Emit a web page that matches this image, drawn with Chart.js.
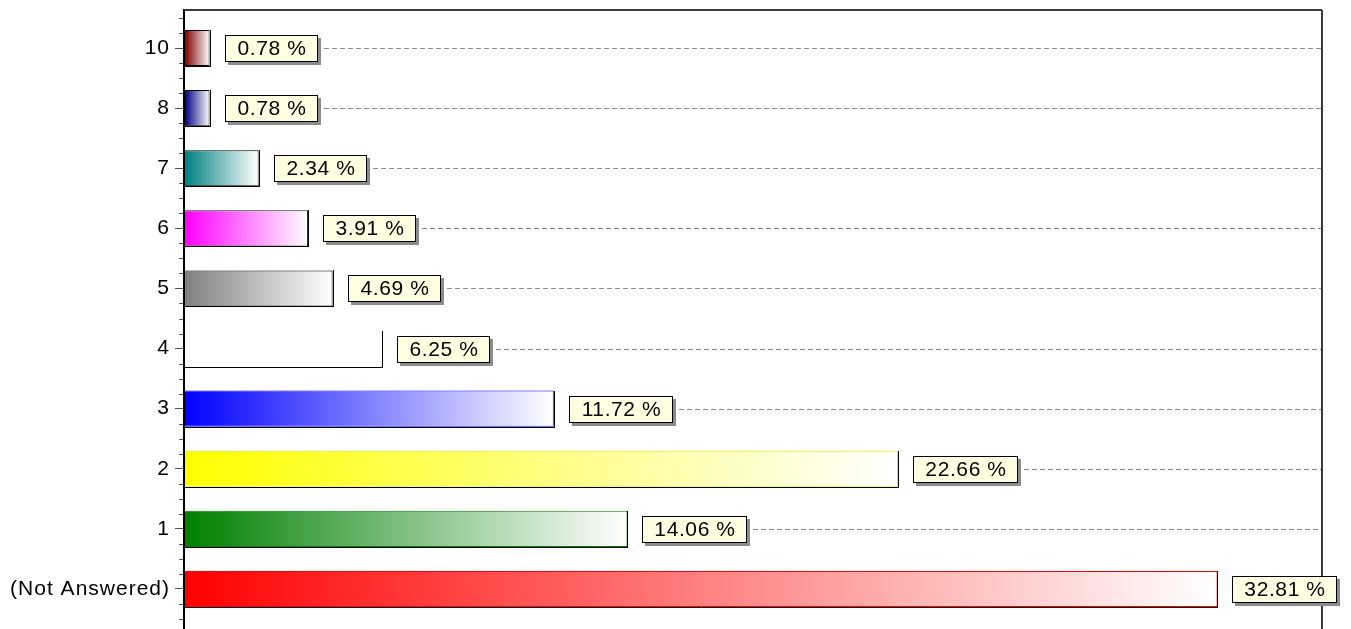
<!DOCTYPE html>
<html>
<head>
<meta charset="utf-8">
<title>Answers</title>
<script src="https://cdn.jsdelivr.net/npm/chart.js@4.4.1/dist/chart.umd.min.js"></script>
<style>
    html, body { margin: 0; padding: 0; background: #fff; overflow: hidden; }
    #wrap { width: 1351px; height: 629px; overflow: hidden; }
</style>
</head>
<body>
<div id="wrap"><canvas id="BarChart" width="1351" height="660"></canvas></div>
<script>
const categories = ['10', '8', '7', '6', '5', '4', '3', '2', '1', '(Not Answered)'];
const percentValues = [0.78, 0.78, 2.34, 3.91, 4.69, 6.25, 11.72, 22.66, 14.06, 32.81];
const barColors = ['#800000', '#000080', '#008080', '#ff00ff', '#808080', '#ffffff', '#0000ff', '#ffff00', '#008000', '#ff0000'];
const edgeColors = ['#000000', '#000000', '#000000', '#202020', '#000000', '#ffffff', '#0000ff', '#e8e800', '#008000', '#ff0000'];

const FONT = '"Liberation Sans", Arial, sans-serif';
const FRAME_TOP = 10;

// gradient from the bar colour to white, across each bar
var barGradient = function (context) {
    const chart = context.chart;
    const i = context.dataIndex;
    if (!chart.chartArea || i === undefined) return barColors[i];
    const xs = chart.scales.x;
    const x0 = xs.getPixelForValue(0);
    const x1 = xs.getPixelForValue(percentValues[i]);
    const g = chart.ctx.createLinearGradient(x0, 0, x1, 0);
    g.addColorStop(0, barColors[i]);
    g.addColorStop(1, '#ffffff');
    return g;
};

var framePlugin = {
    id: 'frame',
    beforeDraw(chart) {
        chart.ctx.letterSpacing = '1px';
    },
    beforeDatasetsDraw(chart) {
        const ctx = chart.ctx;
        const area = chart.chartArea;
        const ys = chart.scales.y;
        const step = ys.getPixelForValue(1) - ys.getPixelForValue(0);
        ctx.save();
        // frame top and right
        ctx.strokeStyle = '#3a3a3a';
        ctx.lineWidth = 2;
        ctx.beginPath();
        ctx.moveTo(area.left - 1, FRAME_TOP);
        ctx.lineTo(area.right + 1, FRAME_TOP);
        ctx.moveTo(area.right + 1, FRAME_TOP);
        ctx.lineTo(area.right + 1, chart.height);
        ctx.stroke();
        // minor ticks on the value axis
        ctx.strokeStyle = '#555';
        ctx.lineWidth = 1;
        ctx.beginPath();
        for (let k = -2; k <= categories.length * 4 + 2; k++) {
            const yy = Math.round(ys.getPixelForValue(0) + k * step / 4) + 0.5;
            if (yy < FRAME_TOP || k % 4 === 0) continue;
            ctx.moveTo(area.left - 6, yy);
            ctx.lineTo(area.left, yy);
        }
        ctx.stroke();
        // axis line
        ctx.strokeStyle = '#000';
        ctx.lineWidth = 2;
        ctx.beginPath();
        ctx.moveTo(area.left - 1, FRAME_TOP - 1);
        ctx.lineTo(area.left - 1, chart.height);
        ctx.stroke();
        ctx.restore();
    },
    afterDatasetsDraw(chart) {
        const ctx = chart.ctx;
        const area = chart.chartArea;
        const bars = chart.getDatasetMeta(0).data;
        ctx.save();
        bars.forEach(function (bar, i) {
            const top = Math.round(bar.y - bar.height / 2);
            const bottom = Math.round(bar.y + bar.height / 2);
            const end = Math.round(bar.x);
            // shadow edge on right and bottom
            ctx.strokeStyle = '#000';
            ctx.lineWidth = 1;
            ctx.beginPath();
            ctx.moveTo(end + 0.5, top);
            ctx.lineTo(end + 0.5, bottom + 1);
            ctx.moveTo(area.left, bottom + 0.5);
            ctx.lineTo(end + 1, bottom + 0.5);
            ctx.stroke();

            // value label box
            const text = percentValues[i].toFixed(2) + ' %';
            ctx.font = '21px ' + FONT;
            ctx.letterSpacing = '0.6px';
            const tw = ctx.measureText(text).width;
            const bx = end + 15;
            const bw = Math.round(tw + 24);
            const bh = 27;
            const by = Math.round(bar.y - 13);
            ctx.fillStyle = '#8c8c8c';
            ctx.fillRect(bx + 3, by + 3, bw, bh);
            ctx.fillStyle = '#ffffe1';
            ctx.fillRect(bx, by, bw, bh);
            ctx.strokeStyle = '#000';
            ctx.strokeRect(bx + 0.5, by + 0.5, bw - 1, bh - 1);
            ctx.fillStyle = '#000';
            ctx.textAlign = 'center';
            ctx.textBaseline = 'middle';
            ctx.fillText(text, bx + bw / 2 + 0.5, by + bh / 2 + 1);

            // dashed guide from the label to the right frame
            const start = bx + bw + 6;
            const cy = Math.round(bar.y) + 0.5;
            if (start < area.right) {
                ctx.strokeStyle = '#8a8a8a';
                ctx.setLineDash([5, 3]);
                ctx.beginPath();
                ctx.moveTo(start, cy);
                ctx.lineTo(area.right, cy);
                ctx.stroke();
                ctx.setLineDash([]);
            }
        });
        ctx.restore();
    },
    afterDraw(chart) {
        chart.ctx.letterSpacing = '0px';
    }
};

var renderBarChart = function () {
    const ctx = document.getElementById('BarChart').getContext('2d');
    const data = {
        labels: categories,
        datasets: [{
            data: percentValues,
            backgroundColor: barGradient,
            borderColor: edgeColors,
            borderWidth: 1,
            borderSkipped: 'left',
            barPercentage: 0.6,
            categoryPercentage: 1.0
        }]
    };
    const config = {
        type: 'bar',
        data: data,
        options: {
            indexAxis: 'y',
            responsive: false,
            animation: false,
            layout: { padding: { top: 18, bottom: 41, right: 30, left: 0 } },
            plugins: {
                legend: { display: false },
                tooltip: { enabled: false }
            },
            scales: {
                x: {
                    display: false,
                    min: 0,
                    max: 36.1
                },
                y: {
                    offset: true,
                    border: { display: false },
                    grid: {
                        offset: false,
                        drawOnChartArea: false,
                        drawTicks: true,
                        tickLength: 10,
                        color: '#555'
                    },
                    ticks: {
                        color: '#000',
                        padding: 5,
                        font: { family: FONT, size: 21 }
                    },
                    afterFit: function (scale) { scale.width = 185; }
                }
            }
        },
        plugins: [framePlugin]
    };
    const myChart = new Chart(ctx, config);
};

renderBarChart();
</script>
</body>
</html>
